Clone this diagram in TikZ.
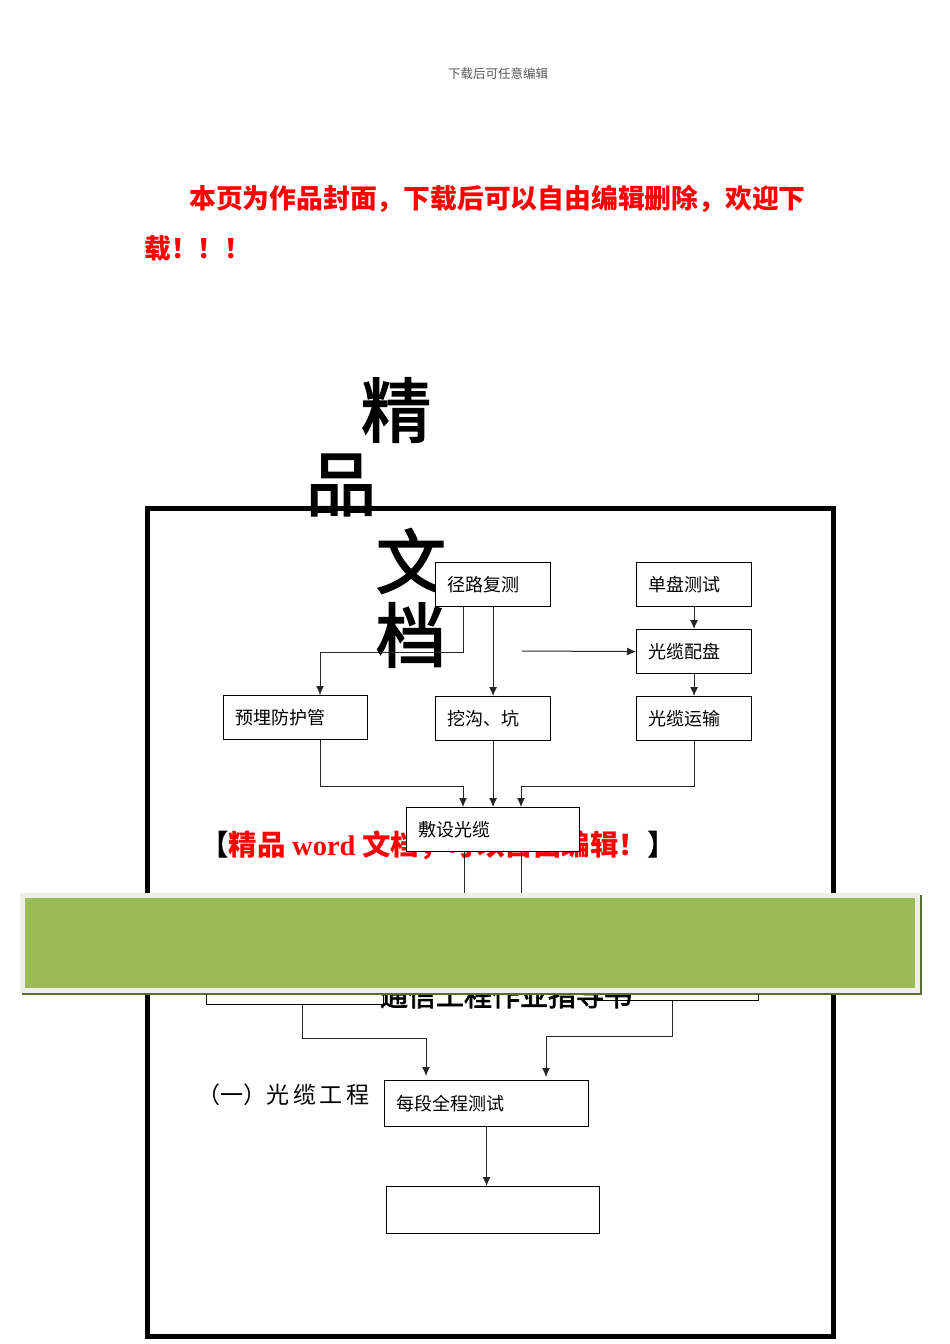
\documentclass[tikz,border=0pt]{standalone}
\usepackage{fontspec}
\setmainfont{Liberation Serif}
\newfontfamily\cjk{Noto Sans CJK SC}
\newfontfamily\cjkmed{Noto Sans CJK SC}[FakeBold=2.5]
\usetikzlibrary{arrows.meta}
\definecolor{redtxt}{HTML}{FF0000}
\definecolor{banner}{HTML}{9BBB59}
\definecolor{bannerrim}{HTML}{EEEEE6}
\definecolor{bannershadow}{HTML}{5A6B33}
\definecolor{hdr}{HTML}{555555}
\begin{document}
\begin{tikzpicture}[x=1pt,y=-1pt,
  box/.style={draw, fill=white, line width=1.1pt, anchor=north west, inner xsep=12pt, inner ysep=0pt, align=left, font=\cjk\fontsize{18}{18}\selectfont},
  conn/.style={line width=1pt, draw=black!85},
  arr/.style={conn, -{Latex[length=9pt,width=8pt]}},
  big/.style={font=\cjkmed\fontsize{70}{70}\selectfont, inner sep=0pt},
  redline/.style={font=\cjk\bfseries\fontsize{26.8}{26.8}\selectfont, text=redtxt, anchor=west, inner sep=0pt}]
\useasboundingbox (0,0) rectangle (950,1344);
\fill[white] (0,0) rectangle (950,1344);

% header
\node[font=\cjk\fontsize{12.5}{12.5}\selectfont, text=hdr, inner sep=0pt] (hdrtxt) at (498,74) {下载后可任意编辑};

% red cover text
\node[redline] (red1) at (189,199) {本页为作品封面，下载后可以自由编辑删除，欢迎下};
\node[redline] (red2) at (144,248) {载！！！};

% big frame
\draw[line width=5pt] (147.5,508.5) rectangle (833.5,1336);

% big title characters
\node[big] (c1) at (396,410) {精};
\node[big] (c2) at (341,485) {品};
\node[big] (c3) at (411,561) {文};
\node[big] (c4) at (411,635) {档};

% red bracket text (partly hidden by box)
\node[anchor=west, inner sep=0pt, font=\cjk\bfseries\fontsize{28.5}{28.5}\selectfont] (rb) at (200,845)
  {\color{black}【\color{redtxt}精品 {\rmfamily\bfseries word} 文档，可以自由编辑！\color{black}】};

\coordinate (h0) at (522,651);

% boxes
\node[box, text width=91pt, minimum height=44pt] (a) at (435,562) {径路复测};
\node[box, text width=91pt, minimum height=44pt] (b) at (636,562) {单盘测试};
\node[box, text width=91pt, minimum height=44pt] (c) at (636,629) {光缆配盘};
\node[box, text width=120pt, minimum height=44pt] (d) at (223,695) {预埋防护管};
\node[box, text width=91pt, minimum height=44pt] (e) at (435,696) {挖沟、坑};
\node[box, text width=91pt, minimum height=44pt] (f) at (636,696) {光缆运输};
\node[box, text width=149pt, minimum height=44pt] (g) at (406,807) {敷设光缆};
\node[box, minimum width=177pt, minimum height=54pt, inner sep=0pt] (h) at (206,950) {};
\node[box, minimum width=161pt, minimum height=50pt, inner sep=0pt] (i) at (597,950) {};
\node[box, text width=180pt, minimum height=46pt] (j) at (384,1080) {每段全程测试};
\node[box, minimum width=213pt, minimum height=47pt, inner sep=0pt] (k) at (386,1186) {};

% connectors
\draw[arr] ([xshift=28pt]a.south west) -- ++(0,45) -| ([xshift=97pt]d.north west);
\draw[arr] (a.south) -- (e.north);
\draw[arr] (h0) -- (c.west);
\draw[arr] (b.south) -- (c.north);
\draw[arr] (c.south) -- (f.north);
\draw[arr] ([xshift=97pt]d.south west) -- ++(0,46) -| ([xshift=57pt]g.north west);
\draw[arr] (e.south) -- (e.south |- g.north);
\draw[arr] (f.south) -- ++(0,45) -| ([xshift=115pt]g.north west);
\draw[conn] ([xshift=58pt]g.south west) -- ++(0,60);
\draw[conn] ([xshift=115pt]g.south west) -- ++(0,60);
\draw[arr, shorten >=4pt] ([xshift=96pt]h.south west) -- ++(0,33) -| ([xshift=42pt]j.north west);
\draw[arr, shorten >=3pt] ([xshift=75pt]i.south west) -- ++(0,35) -| ([xshift=162pt]j.north west);
\draw[arr] (j.south) -- (j.south |- k.north);

% hidden title text
\node[font=\cjkmed\fontsize{28}{28}\selectfont, anchor=base, inner sep=0pt] (t) at (506,1006) {通信工程作业指导书};

% section label
\node[font=\cjk\fontsize{23}{23}\selectfont, anchor=west, inner sep=0pt] (s) at (197,1095) {（一）光\,缆\,工\,程};

% green banner
\fill[bannershadow] (22,895) rectangle (922,995);
\fill[bannerrim] (20,893) rectangle (920,993);
\fill[banner] (25,898) rectangle (915,988);
\end{tikzpicture}
\end{document}
